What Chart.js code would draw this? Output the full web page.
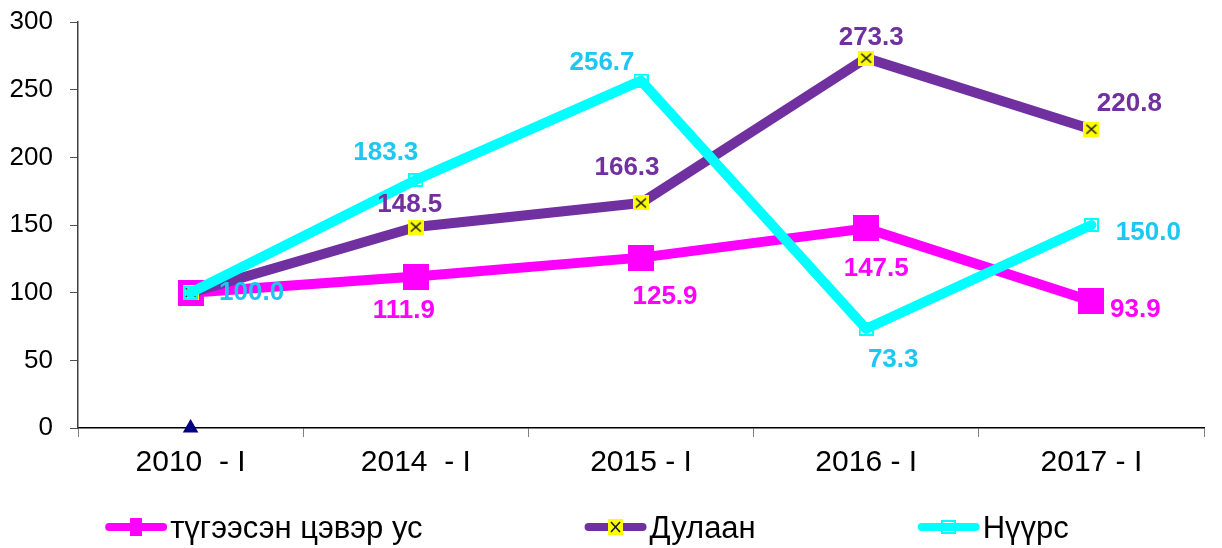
<!DOCTYPE html>
<html>
<head>
<meta charset="utf-8">
<script src="https://cdn.jsdelivr.net/npm/chart.js@4"></script>
<style>
  html, body { margin: 0; padding: 0; background: #ffffff; }
  #wrap { width: 1222px; height: 548px; position: relative; }
</style>
</head>
<body>
<div id="wrap"><canvas id="chart" width="1222" height="548"></canvas></div>
<script>
// Index values by period (2010 - I = 100)
const periods = ['2010  - I', '2014  - I', '2015 - I', '2016 - I', '2017 - I'];
const waterValues = [100.0, 111.9, 125.9, 147.5, 93.9];
const heatValues = [100.0, 148.5, 166.3, 273.3, 220.8];
const coalValues = [100.0, 183.3, 256.7, 73.3, 150.0];
const baseValues = [0, null, null, null, null];
const seriesNames = ['түгээсэн цэвэр ус', 'Дулаан', 'Нүүрс'];
const yMin = 0, yMax = 300, yStep = 50;

// Where each value label sits relative to its point (dx, dy in px)
const waterLabelOffsets = [null, [-12, 34], [24, 39], [10, 40], [44, 9]];
const heatLabelOffsets = [null, [-6, -22], [-14, -35], [5, -20], [38, -25]];
const coalLabelOffsets = [[61, 0], [-30, -27], [-39, -18], [27, 31], [57, 8]];

const PINK = '#FF00FF', PURPLE = '#7030A0', CYAN = '#00FFFF', CYAN_TEXT = '#1CC7F2';
const FONT = '"Liberation Sans", Arial, Helvetica, sans-serif';

function makeCanvas(w, h, draw) {
  const c = document.createElement('canvas');
  c.width = w; c.height = h;
  draw(c.getContext('2d'), w, h);
  return c;
}
function squareMarker(w, h, color) {
  return makeCanvas(w, h, (g) => { g.fillStyle = color; g.fillRect(0, 0, w, h); });
}
function crossMarker(w, h) {
  return makeCanvas(w, h, (g) => {
    g.fillStyle = '#FFFF00'; g.fillRect(0, 0, w, h);
    g.strokeStyle = '#1a1a1a'; g.lineWidth = 1.6;
    g.beginPath();
    g.moveTo(3, 3); g.lineTo(w - 3, h - 3);
    g.moveTo(w - 3, 3); g.lineTo(3, h - 3);
    g.stroke();
  });
}
function hollowMarker(w, h, color) {
  return makeCanvas(w, h, (g) => {
    g.strokeStyle = color; g.lineWidth = 2;
    g.strokeRect(1, 1, w - 2, h - 2);
  });
}

const pointMarkers = [squareMarker(26, 26, PINK), crossMarker(16, 15), hollowMarker(15, 14, CYAN)];
const legendMarkers = [squareMarker(12, 18, PINK), crossMarker(15, 16), hollowMarker(15, 14, CYAN)];
const labelStyles = [
  { color: PINK, offsets: waterLabelOffsets },
  { color: PURPLE, offsets: heatLabelOffsets },
  { color: CYAN_TEXT, offsets: coalLabelOffsets }
];

// Value labels drawn next to each point
const valueLabels = {
  id: 'valueLabels',
  afterDatasetsDraw(chart) {
    const ctx = chart.ctx;
    chart.data.datasets.forEach((ds, i) => {
      const style = labelStyles[i];
      if (!style) return;
      const meta = chart.getDatasetMeta(i);
      ctx.save();
      ctx.font = 'bold 26px ' + FONT;
      ctx.fillStyle = style.color;
      ctx.textAlign = 'center';
      ctx.textBaseline = 'middle';
      meta.data.forEach((pt, j) => {
        const off = style.offsets[j];
        if (!off || ds.data[j] == null) return;
        ctx.fillText(ds.data[j].toFixed(1), pt.x + off[0], pt.y + off[1]);
      });
      ctx.restore();
    });
  }
};

// Legend row under the axis: line sample with marker, then the series name
const seriesLegend = {
  id: 'seriesLegend',
  afterDraw(chart) {
    const ctx = chart.ctx;
    const lineLength = 62, lineWidth = 8, textGap = 3, itemGap = 162;
    const centerX = 587, lineY = 527, textY = 538;
    ctx.save();
    ctx.font = '31px ' + FONT;
    const items = seriesNames.map((name, i) => ({ name, ds: chart.data.datasets[i], marker: legendMarkers[i] }));
    const widths = items.map(it => lineLength + textGap + ctx.measureText(it.name).width);
    const total = widths.reduce((a, b) => a + b, 0) + itemGap * (items.length - 1);
    let x = centerX - total / 2;
    items.forEach((it, i) => {
      ctx.strokeStyle = it.ds.borderColor;
      ctx.lineWidth = lineWidth;
      ctx.lineCap = 'round';
      ctx.beginPath();
      ctx.moveTo(x + lineWidth / 2, lineY);
      ctx.lineTo(x + lineLength - lineWidth / 2, lineY);
      ctx.stroke();
      const m = it.marker;
      ctx.drawImage(m, Math.round(x + lineLength / 2 - m.width / 2), Math.round(lineY - m.height / 2));
      ctx.fillStyle = '#000000';
      ctx.textAlign = 'left';
      ctx.textBaseline = 'alphabetic';
      ctx.fillText(it.name, x + lineLength + textGap, textY);
      x += widths[i] + itemGap;
    });
    ctx.restore();
  }
};

const lineDefaults = {
  borderWidth: 10,
  borderCapStyle: 'round',
  borderJoinStyle: 'round',
  tension: 0,
  fill: false,
  pointRadius: 8,
  pointHoverRadius: 8
};

new Chart(document.getElementById('chart'), {
  type: 'line',
  data: {
    labels: periods,
    datasets: [
      Object.assign({}, lineDefaults, {
        label: seriesNames[0], data: waterValues, order: 3,
        borderColor: PINK, backgroundColor: PINK, pointStyle: pointMarkers[0]
      }),
      Object.assign({}, lineDefaults, {
        label: seriesNames[1], data: heatValues, order: 2,
        borderColor: PURPLE, backgroundColor: PURPLE, pointStyle: pointMarkers[1]
      }),
      Object.assign({}, lineDefaults, {
        label: seriesNames[2], data: coalValues, order: 1,
        borderColor: CYAN, backgroundColor: CYAN, pointStyle: pointMarkers[2]
      }),
      {
        label: 'base', data: baseValues, order: 0, showLine: false, clip: false,
        pointStyle: 'triangle', pointRadius: 9, pointHoverRadius: 9,
        backgroundColor: '#000080', borderColor: '#000080', borderWidth: 0
      }
    ]
  },
  options: {
    responsive: false,
    animation: false,
    events: [],
    layout: { padding: { top: 22, right: 17, bottom: 0, left: 0 } },
    plugins: {
      legend: { display: false },
      tooltip: { enabled: false }
    },
    scales: {
      x: {
        type: 'category',
        offset: true,
        afterFit(scale) { scale.height = 120; },
        grid: { offset: true, drawOnChartArea: false, drawTicks: true, tickLength: 9, color: '#808080' },
        border: { display: true, color: '#000000', width: 1.5 },
        ticks: { color: '#000000', padding: 8, maxRotation: 0, autoSkip: false, font: { family: FONT, size: 30 } }
      },
      y: {
        min: yMin,
        max: yMax,
        afterFit(scale) { scale.width = 78; scale.paddingTop = 0; scale.paddingBottom = 0; },
        grid: { drawOnChartArea: false, drawTicks: true, tickLength: 8, color: '#505050' },
        border: { display: true, color: '#404040', width: 1.5 },
        ticks: { stepSize: yStep, color: '#000000', padding: 17, font: { family: FONT, size: 26 } }
      }
    }
  },
  plugins: [valueLabels, seriesLegend]
});
</script>
</body>
</html>
